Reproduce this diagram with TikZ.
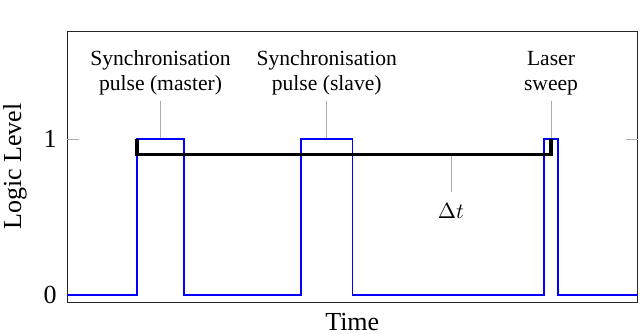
\documentclass[tikz,border=0pt]{standalone}
\usepackage{fontspec}
\setmainfont{Liberation Serif}
\usepackage{tikz}
\usetikzlibrary{positioning, calc}
\definecolor{signalblue}{rgb}{0.0, 0.0, 1.0}
\definecolor{pingray}{rgb}{0.68, 0.68, 0.68}
\definecolor{framegray}{rgb}{0.15, 0.15, 0.15}

\begin{document}
\begin{tikzpicture}[x=0.5pt, y=0.5pt,
		frame/.style={draw=framegray, line width=0.5pt},
		signal/.style={signalblue, line width=0.6pt},
		bracket/.style={black, line width=1.6pt},
		pinline/.style={pingray, line width=0.5pt},
		tickmark/.style={pingray, line width=0.5pt},
		annot/.style={align=center, inner sep=3pt, font=\fontsize{10.8}{12.5}\selectfont},
		axlabel/.style={inner sep=5pt, font=\fontsize{13}{15}\selectfont}
	]
	\useasboundingbox (0,0) rectangle (640,333);
	% axis frame
	\coordinate (sw) at (67,30.5);
	\coordinate (ne) at (637.5,302);
	\coordinate (s) at ($(sw)!0.5!(sw -| ne)$);
	\draw[frame] (sw) rectangle (ne);
	\foreach \lv/\name in {38/0, 194/1} {
		\coordinate (t\name) at (67,\lv);
		\draw[tickmark] (t\name) -- ++(12,0);
		\draw[tickmark] (637.5,\lv) -- ++(-12,0);
		\node[axlabel, left=0pt of t\name] (tl\name) {\name};
	}
	% pulse tops and delay
	\coordinate (pa) at (160.5,194);
	\coordinate (pb) at (326.75,194);
	\coordinate (pc) at (551,194);
	\coordinate (pd) at (451,178.7);
	\node[annot, above=19pt of pa] (master) {Synchronisation\\pulse (master)};
	\node[annot, above=19pt of pb] (slave) {Synchronisation\\pulse (slave)};
	\node[annot, above=19pt of pc] (sweep) {Laser\\sweep};
	\node[annot, inner sep=5.5pt, below=19pt of pd] (dt) {$\Delta t$};
	\draw[pinline] (master) -- (pa);
	\draw[pinline] (slave) -- (pb);
	\draw[pinline] (sweep) -- (pc);
	\draw[pinline] (dt) -- (pd);
	% signal
	\draw[signal] (67,38) -- (137,38) -- (137,194) -- (184,194) -- (184,38)
		-- (301,38) -- (301,194) -- (352.5,194) -- (352.5,38)
		-- (544,38) -- (544,194) -- (558,194) -- (558,38) -- (637.5,38);
	\draw[bracket] (137,194) -- (137,178.7) -- (551,178.7) -- (551,194);
	\node[axlabel, below=0pt of s] (xlab) {Time};
	\node[axlabel, rotate=90] (ylab) at (15,166.5) {Logic Level};
\end{tikzpicture}
\end{document}
